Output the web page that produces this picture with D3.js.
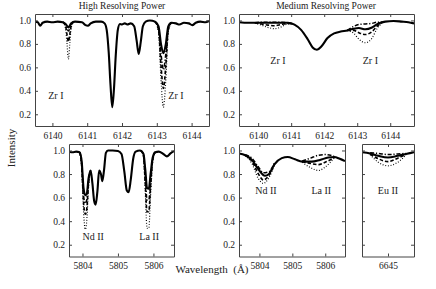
<!DOCTYPE html>
<html>
<head>
<meta charset="utf-8">
<script src="https://cdn.jsdelivr.net/npm/d3@7"></script>
<style>
  body { margin: 0; background: #fff; }
  svg { display: block; }
</style>
</head>
<body>
<div id="chart"></div>
<script>
// spectra (normalised intensity vs wavelength in A)

// high resolving power, Zr I region
const hiZrWave = [6139.50, 6139.58, 6139.65, 6139.72, 6139.85, 6140.00, 6140.15, 6140.30, 6140.38, 6140.46,
  6140.54, 6140.65, 6140.85, 6140.95, 6141.02, 6141.10, 6141.25, 6141.40, 6141.50, 6141.56,
  6141.62, 6141.67, 6141.72, 6141.77, 6141.82, 6141.88, 6141.94, 6142.00, 6142.08, 6142.15,
  6142.25, 6142.35, 6142.42, 6142.48, 6142.54, 6142.60, 6142.68, 6142.80, 6142.95, 6143.05,
  6143.12, 6143.19, 6143.26, 6143.33, 6143.42, 6143.55, 6143.65, 6143.78, 6143.92, 6144.02,
  6144.12, 6144.25, 6144.40, 6144.50];
const hiZrSolid = [0.99, 0.985, 0.955, 0.98, 0.99, 0.985, 0.99, 0.985, 0.97, 0.94,
  0.975, 0.99, 0.985, 0.96, 0.955, 0.975, 0.99, 0.99, 0.975, 0.92,
  0.72, 0.45, 0.26, 0.42, 0.70, 0.92, 0.97, 0.965, 0.975, 0.965,
  0.975, 0.95, 0.83, 0.715, 0.82, 0.95, 0.99, 1.0, 0.99, 0.95,
  0.80, 0.72, 0.80, 0.95, 0.98, 0.975, 0.965, 0.98, 0.975, 0.96,
  0.98, 0.99, 0.985, 0.995];
const hiZr1Wave = [6140.30, 6140.38, 6140.42, 6140.46, 6140.50, 6140.54, 6140.62];
const hiZr1DashDot = [0.985, 0.96, 0.93, 0.91, 0.93, 0.965, 0.99];
const hiZr1Dashed = [0.985, 0.95, 0.88, 0.82, 0.88, 0.955, 0.99];
const hiZr1Dotted = [0.985, 0.93, 0.80, 0.67, 0.80, 0.94, 0.99];
const hiZr2Wave = [6142.95, 6143.05, 6143.12, 6143.19, 6143.26, 6143.33, 6143.42];
const hiZr2DashDot = [0.99, 0.93, 0.72, 0.58, 0.72, 0.93, 0.98];
const hiZr2Dashed = [0.99, 0.92, 0.62, 0.42, 0.62, 0.92, 0.98];
const hiZr2Dotted = [0.99, 0.90, 0.50, 0.26, 0.50, 0.90, 0.98];

// high resolving power, Nd II / La II region
const hiNdWave = [5803.62, 5803.72, 5803.82, 5803.92, 5803.98, 5804.03, 5804.08, 5804.12, 5804.17, 5804.23,
  5804.28, 5804.33, 5804.37, 5804.42, 5804.47, 5804.52, 5804.56, 5804.61, 5804.66, 5804.72,
  5804.85, 5805.00, 5805.10, 5805.18, 5805.25, 5805.30, 5805.36, 5805.43, 5805.50, 5805.62,
  5805.72, 5805.77, 5805.82, 5805.87, 5805.92, 5805.98, 5806.05, 5806.15, 5806.28, 5806.38,
  5806.48, 5806.58];
const hiNdSolid = [0.99, 0.985, 0.99, 0.985, 0.90, 0.68, 0.62, 0.63, 0.76, 0.83,
  0.72, 0.57, 0.54, 0.65, 0.83, 0.80, 0.74, 0.84, 0.98, 1.0,
  1.0, 0.995, 0.97, 0.82, 0.66, 0.645, 0.75, 0.93, 0.99, 1.0,
  0.97, 0.84, 0.68, 0.675, 0.80, 0.94, 0.985, 0.99, 0.97, 0.95,
  0.975, 0.995];
const hiNd1Wave = [5803.92, 5803.98, 5804.03, 5804.08, 5804.12, 5804.17, 5804.23];
const hiNd1DashDot = [0.985, 0.88, 0.62, 0.55, 0.58, 0.74, 0.83];
const hiNd1Dashed = [0.985, 0.86, 0.56, 0.46, 0.50, 0.72, 0.83];
const hiNd1Dotted = [0.985, 0.84, 0.48, 0.33, 0.40, 0.68, 0.83];
const hiLa1Wave = [5805.65, 5805.72, 5805.77, 5805.82, 5805.87, 5805.92, 5805.98, 5806.05];
const hiLa1DashDot = [1.0, 0.96, 0.78, 0.58, 0.58, 0.74, 0.93, 0.985];
const hiLa1Dashed = [1.0, 0.955, 0.72, 0.48, 0.48, 0.70, 0.92, 0.985];
const hiLa1Dotted = [1.0, 0.95, 0.65, 0.34, 0.34, 0.62, 0.90, 0.985];

// medium resolving power, Zr I region
const mdZrWave = [6139.42, 6139.70, 6140.00, 6140.30, 6140.60, 6140.90, 6141.10, 6141.30, 6141.50, 6141.65,
  6141.78, 6141.92, 6142.10, 6142.30, 6142.50, 6142.70, 6142.90, 6143.05, 6143.25, 6143.45,
  6143.65, 6143.85, 6144.10, 6144.35, 6144.55, 6144.72];
const mdZrSolid = [0.985, 0.98, 0.98, 0.98, 0.98, 0.98, 0.965, 0.92, 0.84, 0.77,
  0.75, 0.78, 0.85, 0.89, 0.905, 0.915, 0.93, 0.935, 0.925, 0.94,
  0.975, 0.99, 0.995, 0.99, 0.985, 0.975];
const mdZr1Wave = [6139.90, 6140.10, 6140.30, 6140.50, 6140.70, 6140.90, 6141.05];
const mdZr1DashDot = [0.98, 0.985, 0.985, 0.985, 0.985, 0.98, 0.97];
const mdZr1Dashed = [0.98, 0.97, 0.96, 0.955, 0.965, 0.975, 0.97];
const mdZr1Dotted = [0.98, 0.96, 0.94, 0.93, 0.945, 0.97, 0.97];
const mdZr2Wave = [6142.70, 6142.90, 6143.05, 6143.25, 6143.45, 6143.60, 6143.75];
const mdZr2DashDot = [0.915, 0.95, 0.965, 0.97, 0.975, 0.985, 0.985];
const mdZr2Dashed = [0.915, 0.915, 0.895, 0.88, 0.905, 0.95, 0.98];
const mdZr2Dotted = [0.915, 0.89, 0.84, 0.81, 0.85, 0.93, 0.975];

// medium resolving power, Nd II / La II region
const mdNdWave = [5803.38, 5803.57, 5803.77, 5803.97, 5804.17, 5804.29, 5804.45, 5804.68, 5804.86, 5805.08,
  5805.30, 5805.59, 5805.84, 5806.09, 5806.27, 5806.44, 5806.60];
const mdNdSolid = [0.975, 0.96, 0.92, 0.84, 0.785, 0.80, 0.88, 0.935, 0.945, 0.925,
  0.905, 0.905, 0.92, 0.94, 0.945, 0.93, 0.91];
const mdNd1Wave = [5803.57, 5803.77, 5803.97, 5804.12, 5804.29, 5804.45];
const mdNd1DashDot = [0.965, 0.935, 0.86, 0.81, 0.82, 0.89];
const mdNd1Dashed = [0.96, 0.91, 0.80, 0.75, 0.79, 0.88];
const mdNd1Dotted = [0.955, 0.89, 0.76, 0.72, 0.77, 0.87];
const mdLa1Wave = [5805.30, 5805.55, 5805.80, 5806.00, 5806.27];
const mdLa1DashDot = [0.91, 0.935, 0.96, 0.965, 0.95];
const mdLa1Dashed = [0.905, 0.89, 0.88, 0.90, 0.94];
const mdLa1Dotted = [0.90, 0.855, 0.83, 0.86, 0.935];

// medium resolving power, Eu II
const mdEuWave = [6644.20, 6644.45, 6644.70, 6645.00, 6645.30, 6645.55, 6645.80];
const mdEuSolid = [0.985, 0.975, 0.955, 0.94, 0.955, 0.97, 0.985];
const mdEu1Wave = [6644.45, 6644.70, 6645.00, 6645.30, 6645.55];
const mdEu1DashDot = [0.98, 0.975, 0.965, 0.97, 0.975];
const mdEu1Dashed = [0.97, 0.93, 0.905, 0.935, 0.965];
const mdEu1Dotted = [0.965, 0.90, 0.87, 0.90, 0.96];

const yTicks = [0.2, 0.4, 0.6, 0.8, 1.0];
const zrTicks = [6140, 6141, 6142, 6143, 6144];
const ndTicks = [5804, 5805, 5806];
const euTicks = [6645];

const width = 436, height = 289;
const yDomain = [0.1, 1.055];
const serif = "'Liberation Serif', 'Times New Roman', Times, 'DejaVu Serif', serif";

// line styles for the four abundances
const styles = {
  solid:   { w: 2.1, dash: null },
  dashdot: { w: 1.5, dash: "4,1.8,1.2,1.8" },
  dashed:  { w: 1.6, dash: "3.5,2" },
  dotted:  { w: 1.2, dash: "0.9,1.8" }
};

const zip = (xs, ys) => xs.map((x, i) => [x, ys[i]]);

const panels = [
  { id: "a", left: 35, top: 14, w: 174, h: 112, domain: [6139.5, 6144.5], ticks: zrTicks, yLabels: true,
    solid: zip(hiZrWave, hiZrSolid),
    feats: [
      { dashdot: zip(hiZr1Wave, hiZr1DashDot), dashed: zip(hiZr1Wave, hiZr1Dashed), dotted: zip(hiZr1Wave, hiZr1Dotted) },
      { dashdot: zip(hiZr2Wave, hiZr2DashDot), dashed: zip(hiZr2Wave, hiZr2Dashed), dotted: zip(hiZr2Wave, hiZr2Dotted) }
    ],
    notes: [["Zr I", 6140.1, 0.36], ["Zr I", 6143.55, 0.36]] },
  { id: "b", left: 239, top: 14, w: 175, h: 112, domain: [6139.42, 6144.72], ticks: zrTicks, yLabels: true,
    solid: zip(mdZrWave, mdZrSolid),
    feats: [
      { dashdot: zip(mdZr1Wave, mdZr1DashDot), dashed: zip(mdZr1Wave, mdZr1Dashed), dotted: zip(mdZr1Wave, mdZr1Dotted) },
      { dashdot: zip(mdZr2Wave, mdZr2DashDot), dashed: zip(mdZr2Wave, mdZr2Dashed), dotted: zip(mdZr2Wave, mdZr2Dotted) }
    ],
    notes: [["Zr I", 6140.6, 0.66], ["Zr I", 6143.4, 0.66]] },
  { id: "c", left: 69, top: 144, w: 105, h: 112.5, domain: [5803.62, 5806.58], ticks: ndTicks, yLabels: true,
    solid: zip(hiNdWave, hiNdSolid),
    feats: [
      { dashdot: zip(hiNd1Wave, hiNd1DashDot), dashed: zip(hiNd1Wave, hiNd1Dashed), dotted: zip(hiNd1Wave, hiNd1Dotted) },
      { dashdot: zip(hiLa1Wave, hiLa1DashDot), dashed: zip(hiLa1Wave, hiLa1Dashed), dotted: zip(hiLa1Wave, hiLa1Dotted) }
    ],
    notes: [["Nd II", 5804.3, 0.27], ["La II", 5805.88, 0.27]] },
  { id: "d", left: 239, top: 144, w: 106, h: 112.5, domain: [5803.38, 5806.6], ticks: ndTicks, yLabels: true,
    solid: zip(mdNdWave, mdNdSolid),
    feats: [
      { dashdot: zip(mdNd1Wave, mdNd1DashDot), dashed: zip(mdNd1Wave, mdNd1Dashed), dotted: zip(mdNd1Wave, mdNd1Dotted) },
      { dashdot: zip(mdLa1Wave, mdLa1DashDot), dashed: zip(mdLa1Wave, mdLa1Dashed), dotted: zip(mdLa1Wave, mdLa1Dotted) }
    ],
    notes: [["Nd II", 5804.2, 0.66], ["La II", 5805.88, 0.66]] },
  { id: "e", left: 362, top: 144, w: 52, h: 112.5, domain: [6644.2, 6645.8], ticks: euTicks, yLabels: false,
    solid: zip(mdEuWave, mdEuSolid),
    feats: [
      { dashdot: zip(mdEu1Wave, mdEu1DashDot), dashed: zip(mdEu1Wave, mdEu1Dashed), dotted: zip(mdEu1Wave, mdEu1Dotted) }
    ],
    notes: [["Eu II", 6645.0, 0.66]] }
];

const svg = d3.select("#chart").append("svg")
  .attr("width", width)
  .attr("height", height)
  .attr("font-family", serif);

function drawPanel(p) {
  const x = d3.scaleLinear().domain(p.domain).range([0, p.w]);
  const y = d3.scaleLinear().domain(yDomain).range([p.h, 0]);
  const g = svg.append("g").attr("transform", `translate(${p.left},${p.top})`);

  g.append("clipPath").attr("id", "clip-" + p.id)
    .append("rect").attr("width", p.w).attr("height", p.h);

  const line = d3.line().x(d => x(d[0])).y(d => y(d[1])).curve(d3.curveMonotoneX);
  const plot = g.append("g").attr("clip-path", `url(#clip-${p.id})`);

  // variants first, solid on top
  ["dotted", "dashed", "dashdot"].forEach(k => {
    p.feats.forEach(f => {
      plot.append("path")
        .attr("d", line(f[k]))
        .attr("fill", "none")
        .attr("stroke", "#000")
        .attr("stroke-width", styles[k].w)
        .attr("stroke-dasharray", styles[k].dash);
    });
  });
  plot.append("path")
    .attr("d", line(p.solid))
    .attr("fill", "none")
    .attr("stroke", "#000")
    .attr("stroke-width", styles.solid.w)
    .attr("stroke-linejoin", "round");

  // axes, ticks pointing inward on all four sides
  const fmt = d3.format("d");
  g.append("g").attr("class", "ax")
    .attr("transform", `translate(0,${p.h})`)
    .call(d3.axisBottom(x).tickValues(p.ticks).tickSize(-3).tickSizeOuter(0).tickPadding(6).tickFormat(fmt));
  g.append("g").attr("class", "ax")
    .call(d3.axisTop(x).tickValues(p.ticks).tickSize(-3).tickSizeOuter(0).tickFormat(""));
  g.append("g").attr("class", "ax")
    .call(d3.axisLeft(y).tickValues(yTicks).tickSize(-3).tickSizeOuter(0).tickPadding(4)
      .tickFormat(p.yLabels ? d3.format(".1f") : ""));
  g.append("g").attr("class", "ax")
    .attr("transform", `translate(${p.w},0)`)
    .call(d3.axisRight(y).tickValues(yTicks).tickSize(-3).tickSizeOuter(0).tickFormat(""));

  g.selectAll(".ax").attr("font-family", serif).attr("font-size", 9.5);
  g.selectAll(".ax text").attr("fill", "#222");
  g.selectAll(".ax line, .ax path").attr("stroke", "#444").attr("stroke-width", 1);

  g.selectAll(".note")
    .data(p.notes)
    .enter()
    .append("text")
    .attr("class", "note")
    .attr("x", d => x(d[1]))
    .attr("y", d => y(d[2]))
    .attr("text-anchor", "middle")
    .attr("dy", "0.35em")
    .attr("font-size", 10)
    .attr("fill", "#222")
    .text(d => d[0]);
}

panels.forEach(drawPanel);

// titles
svg.append("text").attr("x", 122).attr("y", 9).attr("text-anchor", "middle")
  .attr("font-size", 9.5).attr("fill", "#222").text("High Resolving Power");
svg.append("text").attr("x", 326).attr("y", 9).attr("text-anchor", "middle")
  .attr("font-size", 9.5).attr("fill", "#222").text("Medium Resolving Power");

svg.append("text")
  .attr("transform", "translate(15,148) rotate(-90)")
  .attr("text-anchor", "middle")
  .attr("font-size", 11)
  .attr("fill", "#222")
  .text("Intensity");
svg.append("text").attr("x", 212).attr("y", 273).attr("text-anchor", "middle")
  .attr("font-size", 11)
  .attr("fill", "#222")
  .attr("xml:space", "preserve")
  .text("Wavelength  (Å)");
</script>
</body>
</html>
